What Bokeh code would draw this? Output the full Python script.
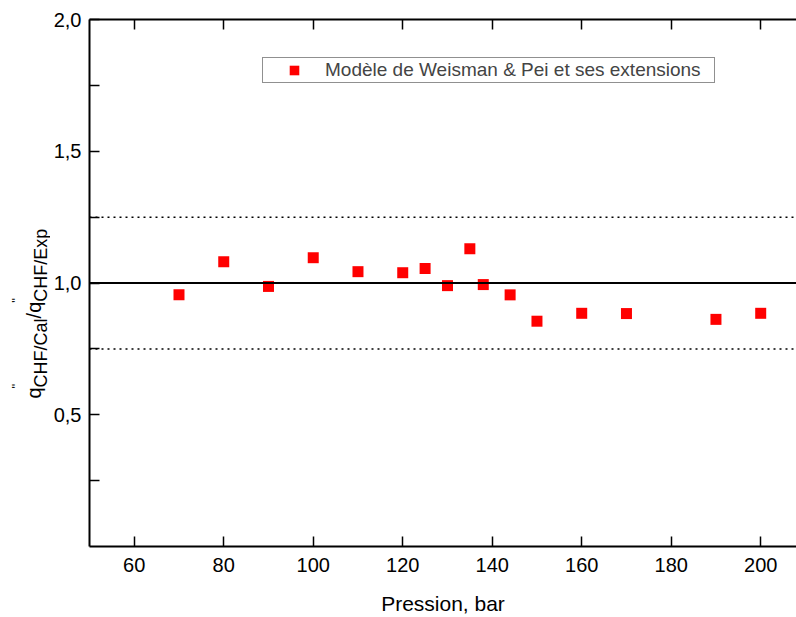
from math import pi
from bokeh.plotting import figure
from bokeh.layouts import row
from bokeh.core.properties import value
from bokeh.models import (Range1d, FixedTicker, LinearAxis, Span, Legend, LegendItem,
                          CustomJSTickFormatter, ColumnDataSource)
from bokeh.embed import file_html
from bokeh.resources import INLINE

# ---- data ----
pressure = [70, 80, 90, 100, 110, 120, 125, 130, 135, 138, 144, 150, 160, 170, 190, 200]
ratio = [0.955, 1.081, 0.987, 1.096, 1.043, 1.039, 1.055, 0.990, 1.130, 0.994,
         0.955, 0.855, 0.885, 0.884, 0.862, 0.885]
x_ticks = [60, 80, 100, 120, 140, 160, 180, 200]
y_major = [0.5, 1.0, 1.5, 2.0]
y_minor = [0.25, 0.75, 1.25, 1.75]
ref_line = [1.0]
band_lines = [0.75, 1.25]
series_label = "Modèle de Weisman & Pei et ses extensions"
x_title = "Pression, bar"
# y title pieces: (text, role)
y_title = [("q", "main"), ("CHF/Cal", "sub"), ("/", "main"), ("q", "main"), ("CHF/Exp", "sub")]

FONT = "Liberation Sans"
WIN_W, H = 796, 617
HW = 50                      # width of the strip holding the rotated y title
W = WIN_W - HW
BL, BR, BT, BB = 89 - HW, 0, 19, 71
X0, X1 = 50, 208
Y0, Y1 = 0, 2.0

# ---- y title strip (pixel coordinates: x from left, y = H - pixel row) ----
t = figure(width=HW, height=H, x_range=Range1d(0, HW), y_range=Range1d(BB, H - BT),
           output_backend="svg", toolbar_location=None, x_axis_type=None, y_axis_type=None,
           min_border_left=0, min_border_right=0, min_border_top=BT, min_border_bottom=BB,
           outline_line_color=None, background_fill_color="white",
           border_fill_color="white", title=None)
t.grid.visible = False

cw = {"q": .556, "C": .722, "H": .722, "F": .611, "/": .278, "a": .556, "l": .222,
      "E": .667, "x": .5, "p": .556}
M, S, P = 20, 18, 13
main_x, sub_x, prime_x = 33, 40, 16
cursor = H - 398
pieces = dict(x=[], y=[], text=[], size=[])
for txt, role in y_title:
    size = M if role == "main" else S
    bx = main_x if role == "main" else sub_x
    pieces["x"].append(bx); pieces["y"].append(cursor)
    pieces["text"].append(txt); pieces["size"].append(f"{size}px")
    w = sum(cw[c] for c in txt) * size
    if txt == "q":
        pieces["x"].append(prime_x); pieces["y"].append(cursor + w - 1)
        pieces["text"].append('"'); pieces["size"].append(f"{P}px")
    cursor += w
t.text("x", "y", text="text", source=ColumnDataSource(pieces), angle=pi / 2,
       text_font=value(FONT), text_font_size="size", text_color="black",
       text_baseline="alphabetic", text_align="left")

# ---- main plot ----
p = figure(width=W, height=H, x_range=Range1d(X0, X1), y_range=Range1d(Y0, Y1),
           output_backend="svg", toolbar_location=None,
           min_border_left=BL, min_border_right=BR, min_border_top=BT, min_border_bottom=BB,
           outline_line_color=None, background_fill_color="white", border_fill_color="white")
p.grid.visible = False

xa = p.xaxis[0]
xa.ticker = FixedTicker(ticks=x_ticks, minor_ticks=[])
xa.axis_line_width = 2
xa.major_tick_in = 10
xa.major_tick_out = 0
xa.major_tick_line_width = 1.5
xa.minor_tick_line_color = None
xa.major_label_standoff = 11
xa.major_label_text_font = FONT
xa.major_label_text_font_size = "20px"
xa.major_label_text_color = "black"
xa.axis_label = x_title
xa.axis_label_text_font = FONT
xa.axis_label_text_font_size = "21px"
xa.axis_label_text_font_style = "normal"
xa.axis_label_text_color = "black"
xa.axis_label_standoff = 17

ya = p.yaxis[0]
ya.ticker = FixedTicker(ticks=y_major, minor_ticks=y_minor)
ya.formatter = CustomJSTickFormatter(code="return tick.toFixed(1).replace('.', ',');")
ya.axis_line_width = 2
ya.major_tick_in = 10
ya.major_tick_out = 0
ya.minor_tick_in = 10
ya.minor_tick_out = 0
ya.major_tick_line_width = 1.5
ya.minor_tick_line_width = 1.5
ya.major_label_standoff = 8
ya.major_label_text_font = FONT
ya.major_label_text_font_size = "20px"
ya.major_label_text_color = "black"

top = LinearAxis(ticker=FixedTicker(ticks=x_ticks, minor_ticks=[]),
                 formatter=CustomJSTickFormatter(code="return '';"),
                 major_label_standoff=0,
                 major_tick_in=10, major_tick_out=0, major_tick_line_width=1.5,
                 minor_tick_line_color=None, axis_line_width=2)
p.add_layout(top, "above")

for v in ref_line:
    p.add_layout(Span(location=v, dimension="width", line_color="black", line_width=2))
for v in band_lines:
    p.add_layout(Span(location=v, dimension="width", line_color="black", line_width=1.5,
                      line_dash="2 4"))

src = ColumnDataSource(dict(x=pressure, y=ratio))
r = p.scatter("x", "y", source=src, marker="square", size=11,
              fill_color="#ff0000", line_color=None)

legend = Legend(items=[LegendItem(label=series_label, renderers=[r])],
                location=(173, 463), padding=0, margin=0, spacing=0,
                glyph_width=62, glyph_height=24, label_standoff=0,
                label_width=389, label_height=24,
                label_text_font=FONT, label_text_font_size="19px",
                border_line_color="#222222", border_line_width=1.5,
                background_fill_color="white", background_fill_alpha=1)
p.add_layout(legend)

layout = row(t, p, spacing=0)
open("out.html", "w").write(file_html(layout, INLINE))
